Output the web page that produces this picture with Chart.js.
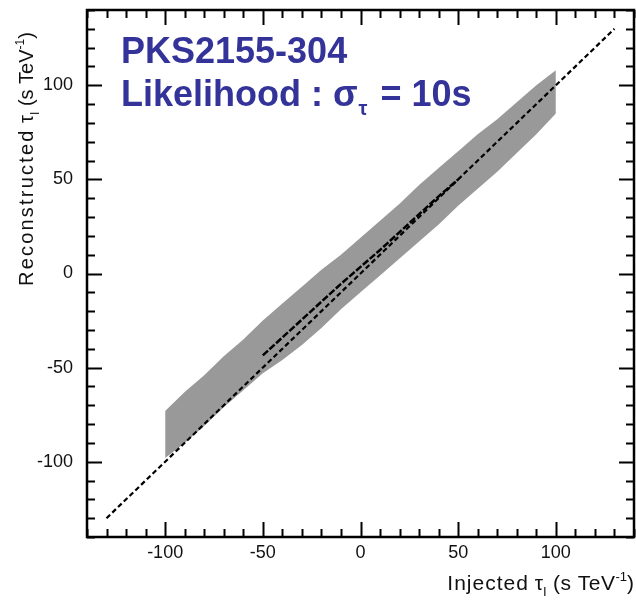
<!DOCTYPE html>
<html>
<head>
<meta charset="utf-8">
<script src="https://cdn.jsdelivr.net/npm/chart.js@4/dist/chart.umd.min.js"></script>
<style>
  html, body { margin: 0; padding: 0; background: #fff; }
  #wrap { width: 636px; height: 602px; position: relative; }
</style>
</head>
<body>
<div id="wrap"><canvas id="c"></canvas></div>
<script>
// injected tau values (x) and the +/-1 sigma band of reconstructed tau
const injected  = [-100, -90, -80, -70, -60, -50, -40, -30, -20, -10, 0, 10, 20, 30, 40, 50, 60, 70, 80, 90, 100];
const bandUpper = [-73, -63, -54, -44, -35, -25, -16, -7, 2, 10, 19, 28, 37, 47, 56, 65, 74, 82, 91, 100, 108];
const bandLower = [-98, -90, -81, -71, -62, -53, -46, -38, -29, -19, -10, -1, 8, 17, 26, 36, 45, 54, 64, 74, 85];

// mean reconstructed value
const reconX = [-50, -40, -30, -20, -10, 0, 10, 20, 30, 40, 50];
const reconY = [-43.5, -34, -24.5, -15, -5.5, 3.5, 12.5, 22, 31.5, 41, 50];

// reference line y = x
const diagX = [-130, 130];

const tickLabels = [-100, -50, 0, 50, 100];
const axisMin = -140, axisMax = 140;

const FONT = '"Liberation Sans", Arial, Helvetica, sans-serif';
const toXY = (xs, ys) => xs.map((x, i) => ({ x: x, y: ys[i] }));

// draws text made of [text, mode, letterSpacing] parts (mode n / sub / sup)
function drawRich(ctx, parts, x, y, size, align) {
  const setup = p => {
    const s = p[1] === 'n' ? size : Math.round(size * 0.6);
    ctx.font = s + 'px ' + FONT;
    ctx.letterSpacing = (p[2] || 0) + 'px';
  };
  const widths = parts.map(p => { setup(p); return ctx.measureText(p[0]).width; });
  const total = widths.reduce((a, b) => a + b, 0);
  let cx = align === 'right' ? x - total : x;
  parts.forEach((p, i) => {
    setup(p);
    const dy = p[1] === 'sub' ? size * 0.3 : (p[1] === 'sup' ? -size * 0.45 : 0);
    ctx.fillText(p[0], cx, y + dy);
    cx += widths[i];
  });
  ctx.letterSpacing = '0px';
  return total;
}

const framePlugin = {
  id: 'frame',
  afterDraw(chart) {
    const ctx = chart.ctx;
    const a = chart.chartArea;
    const xs = chart.scales.x, ys = chart.scales.y;
    ctx.save();
    ctx.strokeStyle = '#000';
    ctx.lineWidth = 2;
    xs.ticks.forEach(t => {
      const len = Math.round(t.value) % 50 === 0 ? 15 : 8;
      const px = Math.round(xs.getPixelForValue(t.value)) + 0.5;
      ctx.beginPath();
      ctx.moveTo(px, a.bottom); ctx.lineTo(px, a.bottom - len);
      ctx.moveTo(px, a.top); ctx.lineTo(px, a.top + len);
      ctx.stroke();
    });
    ys.ticks.forEach(t => {
      const len = Math.round(t.value) % 50 === 0 ? 15 : 8;
      const py = Math.round(ys.getPixelForValue(t.value)) + 0.5;
      ctx.beginPath();
      ctx.moveTo(a.left, py); ctx.lineTo(a.left + len, py);
      ctx.moveTo(a.right, py); ctx.lineTo(a.right - len, py);
      ctx.stroke();
    });
    ctx.lineWidth = 2.5;
    ctx.strokeRect(a.left, a.top, a.right - a.left, a.bottom - a.top);

    // axis titles
    ctx.fillStyle = '#111';
    ctx.textBaseline = 'alphabetic';
    drawRich(ctx, [['Injected', 'n', 1], [' ', 'n'], ['τ', 'n'], ['I', 'sub'], [' (s TeV', 'n', 0.5], ['-1', 'sup'], [')', 'n']],
      634, 590, 21, 'right');
    ctx.save();
    ctx.translate(33, 286);
    ctx.rotate(-Math.PI / 2);
    drawRich(ctx, [['Reconstructed', 'n', 2.2], [' ', 'n'], ['τ', 'n'], ['I', 'sub'], [' (s TeV', 'n', 0], ['-1', 'sup'], [')', 'n']],
      0, 0, 20, 'left');
    ctx.restore();

    // title block
    ctx.fillStyle = '#333399';
    ctx.font = 'bold 36px ' + FONT;
    ctx.fillText('PKS2155-304', 121, 63);
    let x = 121;
    const l1 = 'Likelihood : σ';
    ctx.fillText(l1, x, 106);
    x += ctx.measureText(l1).width;
    ctx.font = 'bold 20px ' + FONT;
    ctx.fillText('τ', x + 1, 115);
    x += ctx.measureText('τ').width + 2;
    ctx.font = 'bold 36px ' + FONT;
    ctx.fillText(' = 10s', x + 2, 106);
    ctx.restore();
  }
};

const noPad = s => { s.paddingTop = 0; s.paddingBottom = 0; s.paddingLeft = 0; s.paddingRight = 0; };

new Chart(document.getElementById('c'), {
  type: 'line',
  data: {
    datasets: [
      {
        data: toXY(injected, bandUpper),
        borderWidth: 0, pointRadius: 0,
        backgroundColor: '#999999',
        fill: '+1'
      },
      {
        data: toXY(injected, bandLower),
        borderWidth: 0, pointRadius: 0, fill: false
      },
      {
        data: toXY(diagX, diagX),
        borderColor: '#000', borderWidth: 2.2, borderDash: [5, 3],
        pointRadius: 0, fill: false
      },
      {
        data: toXY(reconX, reconY),
        borderColor: '#000', borderWidth: 2.5, borderDash: [7, 2],
        pointRadius: 0, fill: false
      }
    ]
  },
  options: {
    responsive: true,
    maintainAspectRatio: false,
    animation: false,
    devicePixelRatio: 1,
    layout: { padding: { top: 10, right: 2, left: 0, bottom: 0 } },
    plugins: {
      legend: { display: false },
      tooltip: { enabled: false },
      filler: { drawTime: 'beforeDatasetsDraw' }
    },
    scales: {
      x: {
        type: 'linear', min: axisMin, max: axisMax,
        grid: { display: false }, border: { display: false },
        ticks: {
          stepSize: 10, autoSkip: false, maxRotation: 0, padding: -3,
          color: '#111', font: { family: FONT, size: 18 },
          callback: v => tickLabels.includes(Math.round(v)) ? String(Math.round(v)) : ''
        },
        afterFit: s => { s.height = 65; noPad(s); }
      },
      y: {
        type: 'linear', min: axisMin, max: axisMax,
        grid: { display: false }, border: { display: false },
        ticks: {
          stepSize: 10, autoSkip: false, padding: 6,
          color: '#111', font: { family: FONT, size: 18 },
          callback: v => tickLabels.includes(Math.round(v)) ? String(Math.round(v)) : ''
        },
        afterFit: s => { s.width = 87; noPad(s); }
      }
    }
  },
  plugins: [framePlugin]
});
</script>
</body>
</html>
